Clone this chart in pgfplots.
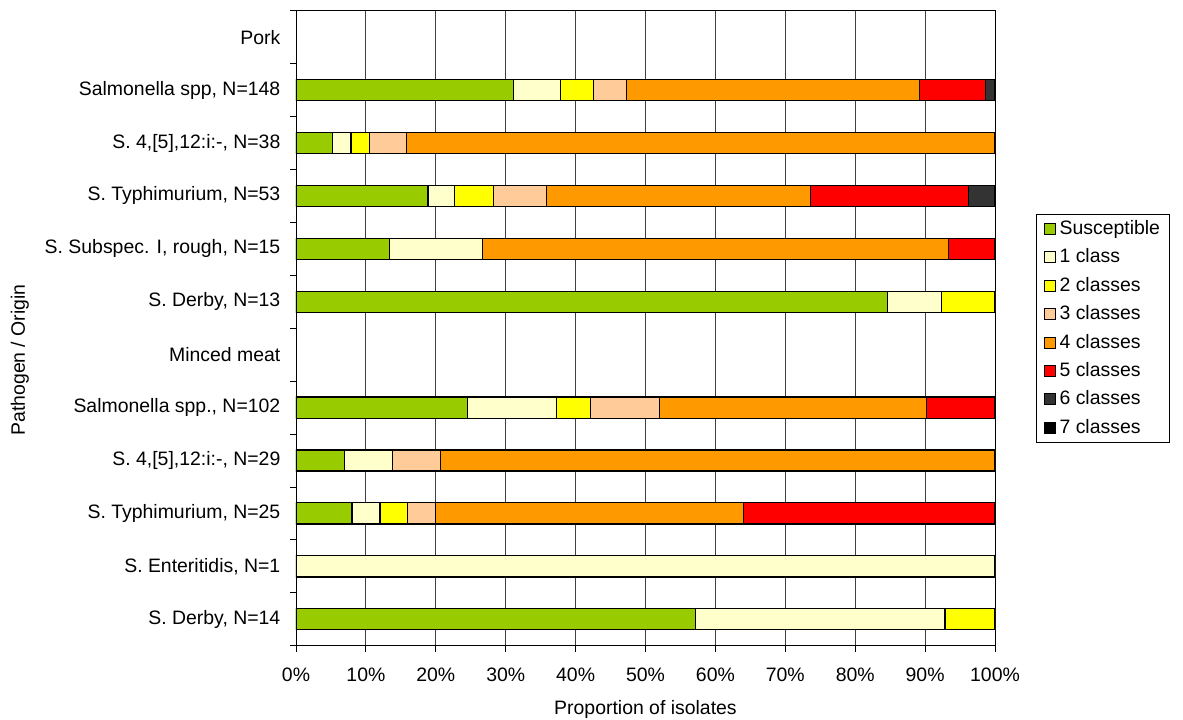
\documentclass[border=0pt]{standalone}
\usepackage{fontspec}
\setmainfont{Liberation Sans}
\usepackage{pgfplots}
\usepackage{pgfplotstable}
\pgfplotsset{compat=1.18}
\definecolor{c0}{HTML}{99CC00}
\definecolor{c1}{HTML}{FFFFCC}
\definecolor{c2}{HTML}{FFFF00}
\definecolor{c3}{HTML}{FFCC99}
\definecolor{c4}{HTML}{FF9900}
\definecolor{c5}{HTML}{FF0000}
\definecolor{c6}{HTML}{333333}
\definecolor{c7}{HTML}{000000}
\pgfplotstableread{
y S c1 c2 c3 c4 c5 c6 c7
0 0 0 0 0 0 0 0 0
1 31.08 6.76 4.73 4.73 41.89 9.46 1.35 0
2 5.26 2.63 2.63 5.26 84.22 0 0 0
3 18.87 3.77 5.66 7.55 37.74 22.64 3.77 0
4 13.33 13.33 0 0 66.67 6.67 0 0
5 84.62 7.69 7.69 0 0 0 0 0
6 0 0 0 0 0 0 0 0
7 24.51 12.75 4.90 9.80 38.24 9.80 0 0
8 6.90 6.90 0 6.90 79.30 0 0 0
9 8 4 4 4 44 36 0 0
10 0 100 0 0 0 0 0 0
11 57.14 35.72 7.14 0 0 0 0 0
}\data
\begin{document}
\fontsize{19.5}{23}\selectfont
\begin{tikzpicture}
\begin{axis}[name=ax,
  xbar stacked, scale only axis, width=699bp, height=635bp,
  bar width=0.4,
  xmin=0, xmax=100, ymin=-0.5, ymax=11.5, y dir=reverse,
  xtick={0,10,...,100},
  xticklabel={\pgfmathprintnumber{\tick}\%},
  /pgf/number format/assume math mode=true,
  ytick={0,...,11},
  yticklabels={Pork,{Salmonella spp, N=148},{S. 4,[5],12:i:-, N=38},{S. Typhimurium, N=53},{S. Subspec. I, rough, N=15},{S. Derby, N=13},{Minced meat},{Salmonella spp., N=102},{S. 4,[5],12:i:-, N=29},{S. Typhimurium, N=25},{S. Enteritidis, N=1},{S. Derby, N=14}},
  minor ytick={-0.5,0.5,...,11.5},
  tick pos=left, tick align=outside,
  major tick length=6bp, minor tick length=6bp,
  major y tick style={draw=none},
  tick style={black, line width=0.8bp},
  yticklabel style={xshift=-3bp},
  xticklabel style={yshift=-10bp},
  xmajorgrids, grid style={black!75, line width=0.8bp},
  axis line style={black, line width=0.8bp},
  xlabel={Proportion of isolates},
  xlabel style={yshift=-5bp},
  ylabel={Pathogen / Origin},
  every axis y label/.style={at={(axis description cs:-0.395,0.45)}, rotate=90, anchor=center},
  legend style={at={(1.059,0.5)}, anchor=west, draw=black, line width=0.6bp, cells={anchor=west}, row sep=7.5bp, inner xsep=7bp, inner ysep=4bp},
  legend image code/.code={\draw[#1,draw=black,line width=0.8bp] (0bp,-5.5bp) rectangle (11bp,5.5bp); \path (13bp,0bp);},
  legend cell align=left,
]
\addplot[fill=c0, draw=black, line width=1.3bp] table[x=S,y=y]{\data};
\addplot[fill=c1, draw=black, line width=1.3bp] table[x=c1,y=y]{\data};
\addplot[fill=c2, draw=black, line width=1.3bp] table[x=c2,y=y]{\data};
\addplot[fill=c3, draw=black, line width=1.3bp] table[x=c3,y=y]{\data};
\addplot[fill=c4, draw=black, line width=1.3bp] table[x=c4,y=y]{\data};
\addplot[fill=c5, draw=black, line width=1.3bp] table[x=c5,y=y]{\data};
\addplot[fill=c6, draw=black, line width=1.3bp] table[x=c6,y=y]{\data};
\addplot[fill=c7, draw=black, line width=1.3bp] table[x=c7,y=y]{\data};
\legend{Susceptible,1 class,2 classes,3 classes,4 classes,5 classes,6 classes,7 classes}
\end{axis}
\pgfresetboundingbox
\path[use as bounding box] ([xshift=-296bp,yshift=-74.3bp]ax.south west) rectangle ([xshift=188bp,yshift=10.7bp]ax.north east);
\end{tikzpicture}
\end{document}
